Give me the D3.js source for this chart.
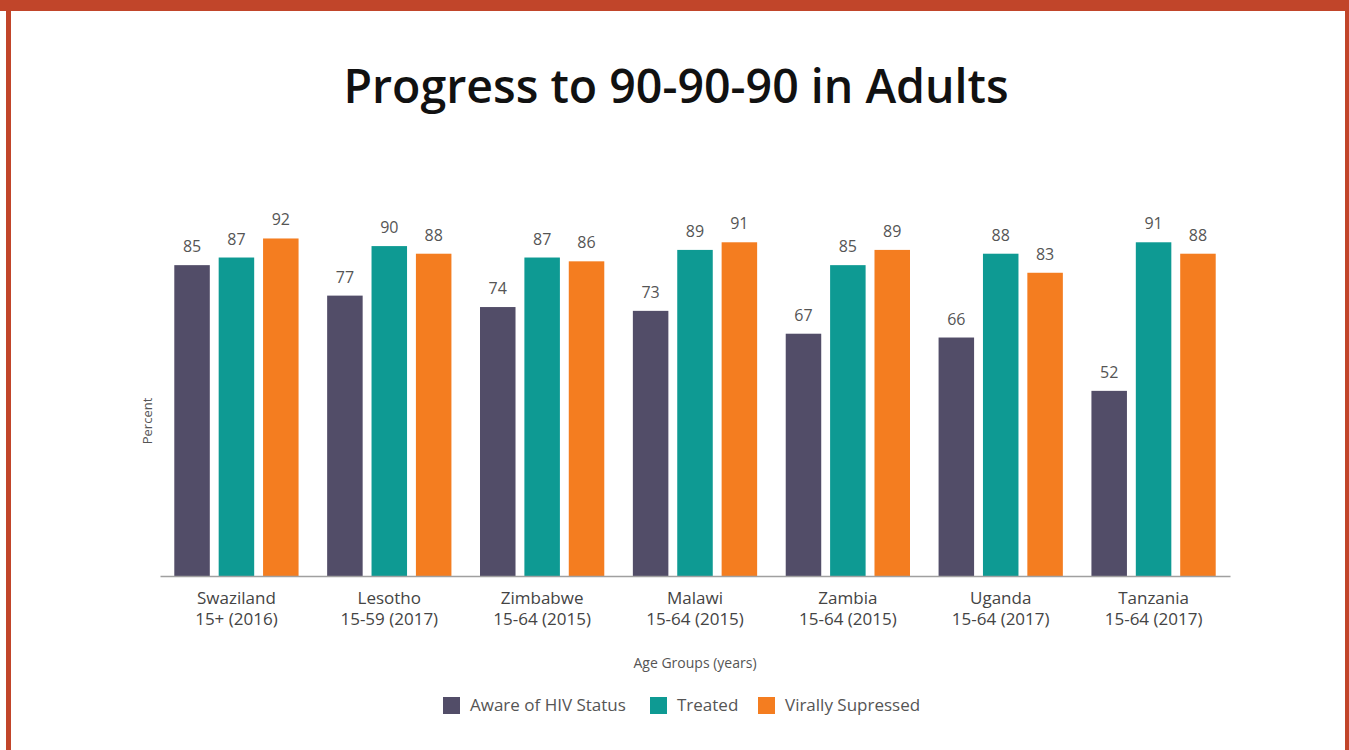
<!DOCTYPE html>
<html>
<head>
    <title>Progress to 90-90-90 in Adults</title>
    <script src="https://d3js.org/d3.v7.min.js"></script>
    <style>
        body {
            margin: 0;
            background: #fff;
            font-family: "Open Sans", "Noto Sans", sans-serif;
        }
        #chart { width: 1349px; height: 750px; }
    </style>
</head>
<body>
    <div id="chart"></div>

    <script>
        // chart data
        const countries = ["Swaziland", "Lesotho", "Zimbabwe", "Malawi", "Zambia", "Uganda", "Tanzania"];
        const ageGroups = ["15+ (2016)", "15-59 (2017)", "15-64 (2015)", "15-64 (2015)", "15-64 (2015)", "15-64 (2017)", "15-64 (2017)"];
        const seriesNames = ["Aware of HIV Status", "Treated", "Virally Supressed"];
        const aware = [85, 77, 74, 73, 67, 66, 52];
        const treated = [87, 90, 87, 89, 85, 88, 91];
        const suppressed = [92, 88, 86, 91, 89, 83, 88];
        const colors = ["#524d68", "#0e9a93", "#f47d20"];

        const width = 1349, height = 750;
        const margin = {top: 208, right: 119, bottom: 174, left: 160};

        const svg = d3.select("#chart")
            .append("svg")
            .attr("width", width)
            .attr("height", height);

        // frame
        svg.append("rect").attr("x", 0).attr("y", 0).attr("width", width).attr("height", 11).attr("fill", "#c1452a");
        svg.append("rect").attr("x", 6).attr("y", 0).attr("width", 5).attr("height", height).attr("fill", "#c1452a");
        svg.append("rect").attr("x", 1345).attr("y", 0).attr("width", 4).attr("height", height).attr("fill", "#c1452a");

        svg.append("text")
            .attr("x", 676)
            .attr("y", 103)
            .attr("text-anchor", "middle")
            .attr("font-size", 46.5)
            .attr("font-weight", 600)
            .attr("fill", "#111")
            .text("Progress to 90-90-90 in Adults");

        const rows = countries.map((c, i) => ({
            country: c,
            age: ageGroups[i],
            values: [aware[i], treated[i], suppressed[i]]
        }));

        const x0 = d3.scaleBand()
            .domain(countries)
            .range([margin.left, width - margin.right])
            .paddingInner(0.187)
            .paddingOuter(0.0935);

        const x1 = d3.scaleBand()
            .domain(seriesNames)
            .range([0, x0.bandwidth()])
            .paddingInner(0.2);

        const y = d3.scaleLinear()
            .domain([3.4, 100])
            .range([height - margin.bottom, margin.top]);

        const groups = svg.append("g")
            .selectAll("g")
            .data(rows)
            .join("g")
            .attr("transform", d => `translate(${x0(d.country)},0)`);

        const bars = groups.selectAll("g")
            .data(d => d.values.map((v, j) => ({name: seriesNames[j], value: v, idx: j})))
            .join("g");

        bars.append("rect")
            .attr("x", d => x1(d.name))
            .attr("y", d => y(d.value))
            .attr("width", x1.bandwidth())
            .attr("height", d => y.range()[0] - y(d.value))
            .attr("fill", d => colors[d.idx]);

        bars.append("text")
            .attr("x", d => x1(d.name) + x1.bandwidth() / 2)
            .attr("y", d => y(d.value) - 13)
            .attr("text-anchor", "middle")
            .attr("font-size", 16)
            .attr("fill", "#555")
            .text(d => d.value);

        // x axis
        const xAxis = svg.append("g")
            .attr("transform", `translate(0,${height - margin.bottom})`)
            .call(d3.axisBottom(x0).tickSize(0).tickSizeOuter(0).tickFormat(""));
        xAxis.select(".domain").attr("stroke", "#a0a0a0").attr("stroke-width", 1.5);

        const tickLabels = svg.append("g")
            .attr("font-size", 17)
            .attr("fill", "#444")
            .attr("text-anchor", "middle");
        rows.forEach(d => {
            const cx = x0(d.country) + x0.bandwidth() / 2;
            const t = tickLabels.append("text").attr("y", 604);
            t.append("tspan").attr("x", cx).text(d.country);
            t.append("tspan").attr("x", cx).attr("dy", 21).text(d.age);
        });

        svg.append("text")
            .attr("x", (margin.left + width - margin.right) / 2)
            .attr("y", 668)
            .attr("text-anchor", "middle")
            .attr("font-size", 14)
            .attr("fill", "#555")
            .text("Age Groups (years)");

        svg.append("text")
            .attr("transform", "translate(152,421) rotate(-90)")
            .attr("text-anchor", "middle")
            .attr("font-size", 13)
            .attr("fill", "#555")
            .text("Percent");

        // legend
        const legendX = [443, 650, 758];
        const legend = svg.append("g");
        seriesNames.forEach((name, i) => {
            legend.append("rect")
                .attr("x", legendX[i])
                .attr("y", 697)
                .attr("width", 17)
                .attr("height", 17)
                .attr("fill", colors[i]);
            legend.append("text")
                .attr("x", legendX[i] + 27)
                .attr("y", 711)
                .attr("font-size", 17)
                .attr("fill", "#555")
                .text(name);
        });
    </script>
</body>
</html>
